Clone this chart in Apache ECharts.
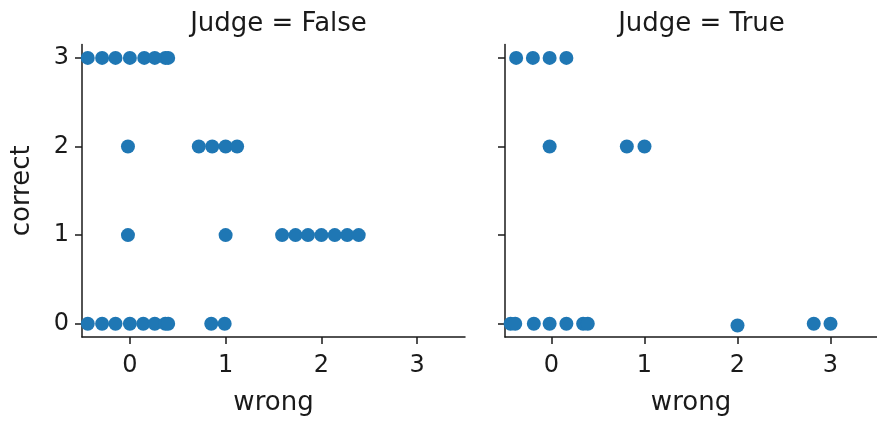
<!DOCTYPE html>
<html>
<head>
<meta charset="utf-8">
<script src="https://cdn.jsdelivr.net/npm/echarts@6/dist/echarts.min.js"></script>
<style>
html,body{margin:0;padding:0;background:#fff;}
#chart{width:877px;height:421px;}
</style>
</head>
<body>
<div id="chart"></div>
<script>
// Panel titles
const panelTitles = ["Judge = False", "Judge = True"];
const xTicks = [0, 1, 2, 3];
const yTicks = [0, 1, 2, 3];
const xLabel = "wrong";
const yLabel = "correct";

// Judge = False panel
const falseWrong = [
  -0.44, -0.29, -0.15, 0.0, 0.15, 0.26, 0.37, 0.40,
  -0.02, 0.72, 0.86, 1.0, 1.12,
  -0.02, 1.0, 1.59, 1.73, 1.86, 2.0, 2.14, 2.27, 2.39,
  -0.44, -0.29, -0.15, 0.0, 0.14, 0.26, 0.37, 0.40, 0.85, 0.99
];
const falseCorrect = [
  3, 3, 3, 3, 3, 3, 3, 3,
  2, 2, 2, 2, 2,
  1, 1, 1, 1, 1, 1, 1, 1, 1,
  0, 0, 0, 0, 0, 0, 0, 0, 0, 0
];

// Judge = True panel
const trueWrong = [
  -0.38, -0.2, -0.02, 0.16,
  -0.02, 0.81, 1.0,
  -0.44, -0.39, -0.19, -0.02, 0.16, 0.34, 0.39, 2.0, 2.82, 3.0
];
const trueCorrect = [
  3, 3, 3, 3,
  2, 2, 2,
  0, 0, 0, 0, 0, 0, 0, -0.02, 0, 0
];

const FONT = "DejaVu Sans";
const TXT = "#1a1a1a";
const pts = (xs, ys) => xs.map((x, i) => [x, ys[i]]);

const grids = [
  {left: 82, top: 44.6, width: 383, height: 293.8},
  {left: 505, top: 44.6, width: 383, height: 293.8}
];

function xAxis(idx) {
  return {
    gridIndex: idx, type: 'value', min: -0.5, max: 3.5,
    name: xLabel, nameLocation: 'middle', nameGap: 53,
    nameTextStyle: {fontFamily: FONT, fontSize: 26, color: TXT},
    splitLine: {show: false},
    axisLine: {show: true, onZero: false, lineStyle: {color: '#1a1a1a', width: 1.5}},
    axisTick: {show: true, length: 7, lineStyle: {color: '#1a1a1a', width: 1.5}, customValues: xTicks},
    axisLabel: {show: true, fontFamily: FONT, fontSize: 24, color: TXT, margin: 17, customValues: xTicks}
  };
}
function yAxis(idx) {
  return {
    gridIndex: idx, type: 'value', min: -0.15, max: 3.15,
    name: idx === 0 ? yLabel : '', nameLocation: 'middle', nameGap: 47,
    nameTextStyle: {fontFamily: FONT, fontSize: 26, color: TXT},
    splitLine: {show: false},
    axisLine: {show: true, onZero: false, lineStyle: {color: '#1a1a1a', width: 1.5}},
    axisTick: {show: true, length: 7, lineStyle: {color: '#1a1a1a', width: 1.5}, customValues: yTicks},
    axisLabel: {show: idx === 0, fontFamily: FONT, fontSize: 24, color: TXT, margin: 13, customValues: yTicks}
  };
}

const chart = echarts.init(document.getElementById('chart'), null, {renderer: 'canvas'});
chart.setOption({
  animation: false,
  backgroundColor: '#fff',
  title: [
    {text: panelTitles[0], left: 273.5, top: 6, textAlign: 'center',
     textStyle: {fontFamily: FONT, fontSize: 26, fontWeight: 'normal', color: TXT}},
    {text: panelTitles[1], left: 696.5, top: 6, textAlign: 'center',
     textStyle: {fontFamily: FONT, fontSize: 26, fontWeight: 'normal', color: TXT}}
  ],
  grid: grids,
  xAxis: [xAxis(0), xAxis(1)],
  yAxis: [yAxis(0), yAxis(1)],
  series: [
    {type: 'scatter', xAxisIndex: 0, yAxisIndex: 0, data: pts(falseWrong, falseCorrect),
     symbolSize: 14, itemStyle: {color: '#1f77b4', opacity: 1}, clip: false},
    {type: 'scatter', xAxisIndex: 1, yAxisIndex: 1, data: pts(trueWrong, trueCorrect),
     symbolSize: 14, itemStyle: {color: '#1f77b4', opacity: 1}, clip: false}
  ]
});
</script>
</body>
</html>
